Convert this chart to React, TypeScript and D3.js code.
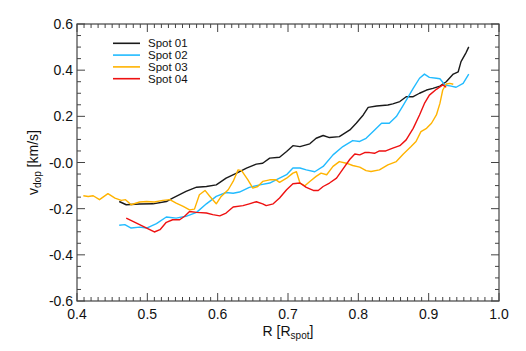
import * as d3 from 'd3';
import React from 'react';

// Doppler velocity profiles
const spot01R = [0.46, 0.47, 0.489, 0.508, 0.527, 0.536, 0.555, 0.57, 0.584, 0.598, 0.612, 0.627, 0.641, 0.655, 0.664, 0.674, 0.688, 0.698, 0.707, 0.717, 0.731, 0.74, 0.75, 0.759, 0.773, 0.788, 0.797, 0.807, 0.814, 0.826, 0.842, 0.849, 0.859, 0.868, 0.878, 0.887, 0.897, 0.906, 0.916, 0.925, 0.935, 0.942, 0.946, 0.953, 0.957];
const spot01V = [-0.169, -0.183, -0.18, -0.179, -0.169, -0.154, -0.125, -0.107, -0.104, -0.097, -0.068, -0.046, -0.024, -0.007, -0.003, 0.019, 0.023, 0.048, 0.073, 0.069, 0.081, 0.105, 0.117, 0.108, 0.112, 0.141, 0.17, 0.206, 0.239, 0.245, 0.249, 0.254, 0.264, 0.285, 0.285, 0.3, 0.314, 0.321, 0.331, 0.35, 0.383, 0.393, 0.437, 0.475, 0.501];

const spot02R = [0.46, 0.468, 0.477, 0.489, 0.499, 0.513, 0.527, 0.541, 0.555, 0.57, 0.584, 0.598, 0.612, 0.622, 0.631, 0.645, 0.66, 0.674, 0.683, 0.698, 0.707, 0.717, 0.726, 0.738, 0.75, 0.764, 0.778, 0.792, 0.802, 0.811, 0.821, 0.833, 0.844, 0.854, 0.864, 0.878, 0.887, 0.894, 0.901, 0.911, 0.916, 0.923, 0.932, 0.939, 0.949, 0.957];
const spot02V = [-0.272, -0.269, -0.284, -0.28, -0.284, -0.265, -0.236, -0.241, -0.233, -0.216, -0.179, -0.147, -0.13, -0.133, -0.128, -0.108, -0.097, -0.089, -0.075, -0.053, -0.024, -0.024, -0.032, -0.04, -0.017, 0.033, 0.069, 0.095, 0.091, 0.105, 0.134, 0.17, 0.17, 0.199, 0.249, 0.321, 0.365, 0.383, 0.369, 0.365, 0.363, 0.336, 0.331, 0.326, 0.343, 0.383];

const spot03R = [0.409, 0.416, 0.423, 0.432, 0.444, 0.454, 0.463, 0.469, 0.477, 0.489, 0.499, 0.51, 0.522, 0.532, 0.541, 0.551, 0.56, 0.567, 0.574, 0.582, 0.589, 0.598, 0.605, 0.615, 0.622, 0.629, 0.634, 0.643, 0.65, 0.657, 0.664, 0.674, 0.683, 0.688, 0.698, 0.707, 0.712, 0.717, 0.724, 0.731, 0.74, 0.747, 0.755, 0.764, 0.773, 0.783, 0.792, 0.802, 0.811, 0.818, 0.83, 0.842, 0.854, 0.864, 0.875, 0.882, 0.889, 0.897, 0.904, 0.911, 0.916, 0.92, 0.925, 0.93, 0.935];
const spot03V = [-0.144, -0.147, -0.144, -0.161, -0.135, -0.154, -0.164, -0.161, -0.183, -0.171, -0.169, -0.171, -0.164, -0.161, -0.176, -0.19, -0.205, -0.202, -0.14, -0.121, -0.147, -0.179, -0.147, -0.118, -0.082, -0.032, -0.035, -0.075, -0.111, -0.104, -0.082, -0.075, -0.075, -0.086, -0.068, -0.046, -0.04, -0.089, -0.101, -0.082, -0.06, -0.046, -0.053, -0.017, 0.004, -0.003, -0.013, -0.02, -0.035, -0.039, -0.032, -0.01, 0.004, 0.037, 0.069, 0.091, 0.134, 0.148, 0.17, 0.206, 0.256, 0.314, 0.34, 0.343, 0.339];

const spot04R = [0.47, 0.489, 0.51, 0.518, 0.527, 0.536, 0.546, 0.553, 0.56, 0.57, 0.584, 0.593, 0.603, 0.612, 0.622, 0.636, 0.645, 0.655, 0.664, 0.669, 0.679, 0.688, 0.698, 0.707, 0.717, 0.726, 0.736, 0.743, 0.75, 0.759, 0.769, 0.778, 0.788, 0.795, 0.802, 0.809, 0.816, 0.823, 0.83, 0.839, 0.849, 0.859, 0.868, 0.878, 0.887, 0.894, 0.901, 0.911, 0.92, 0.925];
const spot04V = [-0.241, -0.269, -0.301, -0.291, -0.259, -0.248, -0.248, -0.233, -0.212, -0.216, -0.219, -0.226, -0.231, -0.219, -0.193, -0.187, -0.179, -0.17, -0.179, -0.187, -0.179, -0.154, -0.118, -0.092, -0.089, -0.108, -0.121, -0.121, -0.104, -0.089, -0.068, -0.029, 0.014, 0.037, 0.033, 0.043, 0.043, 0.04, 0.05, 0.05, 0.062, 0.073, 0.098, 0.148, 0.206, 0.256, 0.292, 0.317, 0.336, 0.326];

const seriesNames = ['Spot 01', 'Spot 02', 'Spot 03', 'Spot 04'];
const seriesColors = ['#1a1a1a', '#22bbff', '#ffb300', '#ee1111'];

const xTicks = [0.4, 0.5, 0.6, 0.7, 0.8, 0.9, 1.0];
const yTicks = [-0.6, -0.4, -0.2, 0.0, 0.2, 0.4, 0.6];
const yTickLabels = ['-0.6', '-0.4', '-0.2', '-0.0', '0.2', '0.4', '0.6'];

const App = () => {
    const width = 526;
    const height = 351;
    const margin = { top: 24, right: 27, bottom: 50, left: 77 };
    const innerW = width - margin.left - margin.right;
    const innerH = height - margin.top - margin.bottom;
    const font = '"Liberation Sans", Arial, Helvetica, sans-serif';
    const axisColor = '#444';

    const x = d3.scaleLinear().domain([0.4, 1.0]).range([0, innerW]);
    const y = d3.scaleLinear().domain([-0.6, 0.6]).range([innerH, 0]);

    const line = d3.line<[number, number]>()
        .x(d => x(d[0]))
        .y(d => y(d[1]));

    const series = [
        d3.zip(spot01R, spot01V),
        d3.zip(spot02R, spot02V),
        d3.zip(spot03R, spot03V),
        d3.zip(spot04R, spot04V),
    ] as [number, number][][];

    // minor ticks: every 0.01 on x, every 0.05 on y
    const xMinor = d3.range(0, 61).map(i => 0.4 + i * 0.01);
    const yMinor = d3.range(0, 25).map(i => -0.6 + i * 0.05);
    const majorLen = 8;
    const minorLen = 4;

    return (
        <svg width={width} height={height} style={{ position: 'absolute', left: 0, top: 0 }}>
            <rect width={width} height={height} fill="#fff" />
            <g transform={`translate(${margin.left},${margin.top})`}>
                {/* data lines */}
                {series.map((s, i) => (
                    <path key={i} d={line(s) || ''} fill="none" stroke={seriesColors[i]}
                        strokeWidth={1.4} strokeLinejoin="round" />
                ))}

                {/* frame */}
                <rect x={0} y={0} width={innerW} height={innerH} fill="none" stroke={axisColor} strokeWidth={1.2} />

                {/* x ticks, bottom and top */}
                {xMinor.map((v, i) => {
                    const len = i % 10 === 0 ? majorLen : minorLen;
                    return (
                        <g key={'xt' + i}>
                            <line x1={x(v)} x2={x(v)} y1={innerH} y2={innerH - len} stroke={axisColor} />
                            <line x1={x(v)} x2={x(v)} y1={0} y2={len} stroke={axisColor} />
                        </g>
                    );
                })}
                {/* y ticks, left and right */}
                {yMinor.map((v, i) => {
                    const len = i % 4 === 0 ? majorLen : minorLen;
                    return (
                        <g key={'yt' + i}>
                            <line x1={0} x2={len} y1={y(v)} y2={y(v)} stroke={axisColor} />
                            <line x1={innerW} x2={innerW - len} y1={y(v)} y2={y(v)} stroke={axisColor} />
                        </g>
                    );
                })}

                {/* tick labels */}
                {xTicks.map((v, i) => (
                    <text key={'xl' + i} x={x(v)} y={innerH + 18} textAnchor="middle"
                        fontFamily={font} fontSize={14} fill="#111">{v.toFixed(1)}</text>
                ))}
                {yTicks.map((v, i) => (
                    <text key={'yl' + i} x={-4} y={y(v) + 5} textAnchor="end"
                        fontFamily={font} fontSize={14} fill="#111">{yTickLabels[i]}</text>
                ))}

                {/* axis titles */}
                <text x={innerW / 2} y={innerH + 35} textAnchor="middle" fontFamily={font} fontSize={14} fill="#111">
                    R [R<tspan fontSize={10} dy={3}>spot</tspan><tspan dy={-3}>]</tspan>
                </text>
                <text transform={`translate(${-39},${innerH / 2}) rotate(-90)`} textAnchor="middle"
                    fontFamily={font} fontSize={14} fill="#111">
                    v<tspan fontSize={10} dy={3}>dop</tspan><tspan dy={-3}> [km/s]</tspan>
                </text>

                {/* legend */}
                {seriesNames.map((name, i) => {
                    const ly = 19.3 + i * 11.8;
                    return (
                        <g key={'lg' + i}>
                            <line x1={36} x2={63} y1={ly} y2={ly} stroke={seriesColors[i]} strokeWidth={1.6} />
                            <text x={71} y={ly + 4} fontFamily={font} fontSize={11.5} fill="#111">{name}</text>
                        </g>
                    );
                })}
            </g>
        </svg>
    );
};

export default App;
